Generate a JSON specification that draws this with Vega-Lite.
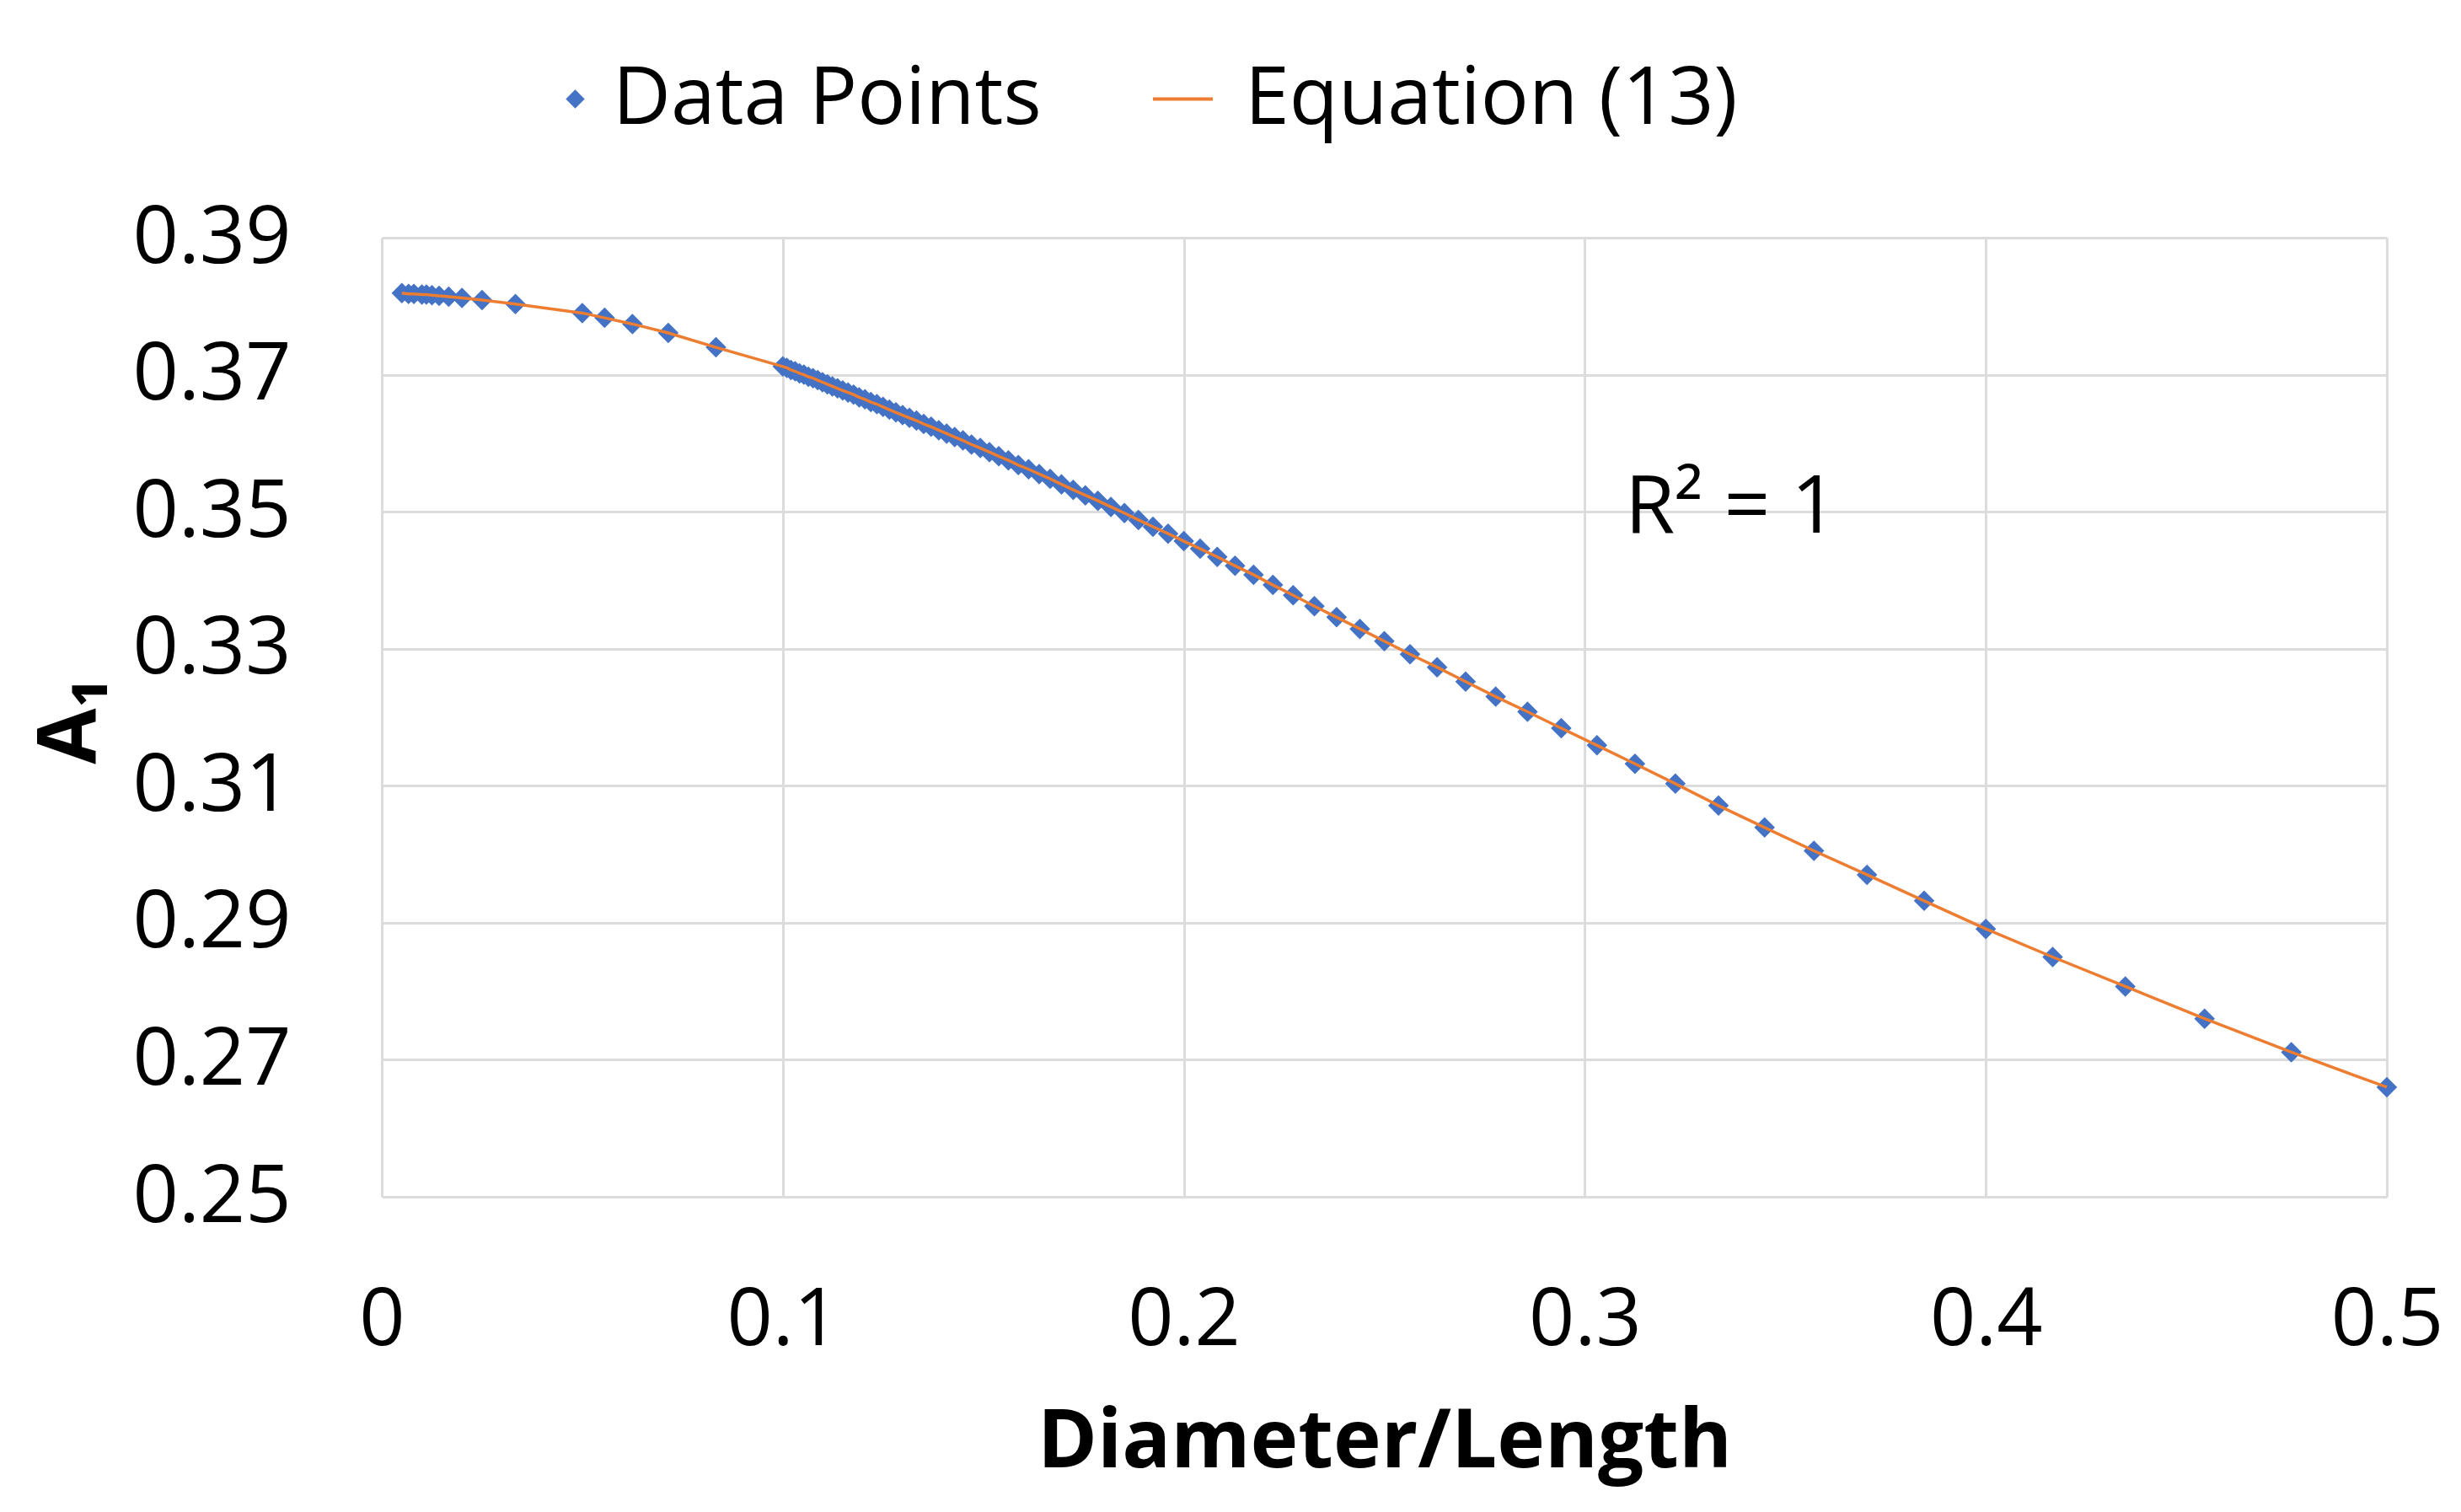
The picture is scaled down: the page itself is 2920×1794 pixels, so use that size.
{
  "$schema": "https://vega.github.io/schema/vega-lite/v6.json",
  "width": 2379,
  "height": 1138,
  "autosize": {"type": "none"},
  "padding": {"left": 453, "top": 282, "right": 88, "bottom": 374},
  "background": "white",
  "config": {
    "view": {"stroke": null},
    "font": "Open Sans",
    "axis": {
      "domain": false,
      "ticks": false,
      "grid": true,
      "gridColor": "#dcdcdc",
      "gridWidth": 3,
      "labelFont": "Open Sans",
      "labelFontSize": 95,
      "labelColor": "#000000",
      "labelFlush": false,
      "labelOverlap": false,
      "labelLimit": 0,
      "titleFont": "Open Sans",
      "titleFontSize": 96,
      "titleFontWeight": "bold",
      "titleColor": "#000000"
    },
    "legend": {
      "labelFont": "Open Sans",
      "labelFontSize": 95,
      "labelColor": "#000000",
      "labelLimit": 0,
      "padding": 0
    }
  },
  "datasets": {
    "pts": [
      {"x": 0.005, "y": 0.3819},
      {"x": 0.00667, "y": 0.3818},
      {"x": 0.008, "y": 0.3818},
      {"x": 0.01, "y": 0.3817},
      {"x": 0.01111, "y": 0.3817},
      {"x": 0.0125, "y": 0.3816},
      {"x": 0.01429, "y": 0.3815},
      {"x": 0.01667, "y": 0.3814},
      {"x": 0.02, "y": 0.3812},
      {"x": 0.025, "y": 0.3809},
      {"x": 0.03333, "y": 0.3803},
      {"x": 0.05, "y": 0.379},
      {"x": 0.05556, "y": 0.3783},
      {"x": 0.0625, "y": 0.3774},
      {"x": 0.07143, "y": 0.3761},
      {"x": 0.08333, "y": 0.374},
      {"x": 0.1, "y": 0.3712},
      {"x": 0.10101, "y": 0.371},
      {"x": 0.10204, "y": 0.3707},
      {"x": 0.10309, "y": 0.3705},
      {"x": 0.10417, "y": 0.3702},
      {"x": 0.10526, "y": 0.37},
      {"x": 0.10638, "y": 0.3697},
      {"x": 0.10753, "y": 0.3695},
      {"x": 0.1087, "y": 0.3692},
      {"x": 0.10989, "y": 0.3689},
      {"x": 0.11111, "y": 0.3686},
      {"x": 0.11236, "y": 0.3683},
      {"x": 0.11364, "y": 0.368},
      {"x": 0.11494, "y": 0.3677},
      {"x": 0.11628, "y": 0.3674},
      {"x": 0.11765, "y": 0.3671},
      {"x": 0.11905, "y": 0.3667},
      {"x": 0.12048, "y": 0.3664},
      {"x": 0.12195, "y": 0.366},
      {"x": 0.12346, "y": 0.3657},
      {"x": 0.125, "y": 0.3653},
      {"x": 0.12658, "y": 0.3649},
      {"x": 0.12821, "y": 0.3645},
      {"x": 0.12987, "y": 0.3641},
      {"x": 0.13158, "y": 0.3637},
      {"x": 0.13333, "y": 0.3633},
      {"x": 0.13514, "y": 0.3628},
      {"x": 0.13699, "y": 0.3624},
      {"x": 0.13889, "y": 0.3619},
      {"x": 0.14085, "y": 0.3614},
      {"x": 0.14286, "y": 0.3609},
      {"x": 0.14493, "y": 0.3604},
      {"x": 0.14706, "y": 0.3598},
      {"x": 0.14925, "y": 0.3593},
      {"x": 0.15152, "y": 0.3587},
      {"x": 0.15385, "y": 0.3581},
      {"x": 0.15625, "y": 0.3575},
      {"x": 0.15873, "y": 0.3568},
      {"x": 0.16129, "y": 0.3562},
      {"x": 0.16393, "y": 0.3555},
      {"x": 0.16667, "y": 0.3548},
      {"x": 0.16949, "y": 0.354},
      {"x": 0.17241, "y": 0.3532},
      {"x": 0.17544, "y": 0.3524},
      {"x": 0.17857, "y": 0.3516},
      {"x": 0.18182, "y": 0.3507},
      {"x": 0.18519, "y": 0.3498},
      {"x": 0.18868, "y": 0.3488},
      {"x": 0.19231, "y": 0.3478},
      {"x": 0.19608, "y": 0.3468},
      {"x": 0.2, "y": 0.3457},
      {"x": 0.20408, "y": 0.3446},
      {"x": 0.20833, "y": 0.3434},
      {"x": 0.21277, "y": 0.3421},
      {"x": 0.21739, "y": 0.3408},
      {"x": 0.22222, "y": 0.3393},
      {"x": 0.22727, "y": 0.3378},
      {"x": 0.23256, "y": 0.3362},
      {"x": 0.2381, "y": 0.3346},
      {"x": 0.2439, "y": 0.3329},
      {"x": 0.25, "y": 0.3311},
      {"x": 0.25641, "y": 0.3292},
      {"x": 0.26316, "y": 0.3273},
      {"x": 0.27027, "y": 0.3252},
      {"x": 0.27778, "y": 0.323},
      {"x": 0.28571, "y": 0.3208},
      {"x": 0.29412, "y": 0.3184},
      {"x": 0.30303, "y": 0.3159},
      {"x": 0.3125, "y": 0.3132},
      {"x": 0.32258, "y": 0.3103},
      {"x": 0.33333, "y": 0.3071},
      {"x": 0.34483, "y": 0.3039},
      {"x": 0.35714, "y": 0.3005},
      {"x": 0.37037, "y": 0.297},
      {"x": 0.38462, "y": 0.2932},
      {"x": 0.4, "y": 0.2891},
      {"x": 0.41667, "y": 0.285},
      {"x": 0.43478, "y": 0.2807},
      {"x": 0.45455, "y": 0.276},
      {"x": 0.47619, "y": 0.2711},
      {"x": 0.5, "y": 0.266}
    ],
    "ann": [
      {"x": 0.31, "y": 0.347, "label": "R² = 1"}
    ]
  },
  "encoding": {
    "x": {
      "field": "x",
      "type": "quantitative",
      "scale": {"domain": [0, 0.5], "nice": false, "zero": false},
      "axis": {
        "values": [0, 0.1, 0.2, 0.3, 0.4, 0.5],
        "format": "~g",
        "title": "Diameter/Length",
        "labelPadding": 100,
        "titleY": 320,
        "titleBaseline": "alphabetic"
      }
    },
    "y": {
      "field": "y",
      "type": "quantitative",
      "scale": {"domain": [0.25, 0.39], "nice": false, "zero": false},
      "axis": {
        "values": [0.25, 0.27, 0.29, 0.31, 0.33, 0.35, 0.37, 0.39],
        "format": ".2f",
        "title": "A₁",
        "labelPadding": 108,
        "titleX": -340,
        "titleY": 573,
        "titleBaseline": "alphabetic",
        "titleAngle": -90
      }
    }
  },
  "layer": [
    {
      "data": {"name": "pts"},
      "mark": {"type": "point", "filled": true, "size": 600, "color": "#4472C4", "opacity": 1, "strokeWidth": 0},
      "encoding": {
        "shape": {
          "datum": "Data Points",
          "scale": {"domain": ["Data Points"], "range": ["diamond"]},
          "legend": {
            "orient": "none",
            "legendX": 182,
            "legendY": -212,
            "title": null,
            "symbolSize": 500,
            "symbolFillColor": "#4472C4",
            "symbolStrokeWidth": 0,
            "labelOffset": -3
          }
        }
      }
    },
    {
      "data": {"name": "pts"},
      "mark": {"type": "line", "strokeWidth": 3.5},
      "encoding": {
        "color": {
          "datum": "Equation (13)",
          "scale": {"domain": ["Equation (13)"], "range": ["#ED7D31"]},
          "legend": {
            "orient": "none",
            "legendX": 903,
            "legendY": -212,
            "title": null,
            "symbolType": "stroke",
            "symbolSize": 5041,
            "symbolStrokeWidth": 4,
            "labelOffset": 26
          }
        }
      }
    },
    {
      "data": {"name": "ann"},
      "mark": {"type": "text", "align": "left", "baseline": "alphabetic", "fontSize": 96, "font": "Open Sans", "color": "#000000"},
      "encoding": {
        "text": {"field": "label"}
      }
    }
  ]
}
